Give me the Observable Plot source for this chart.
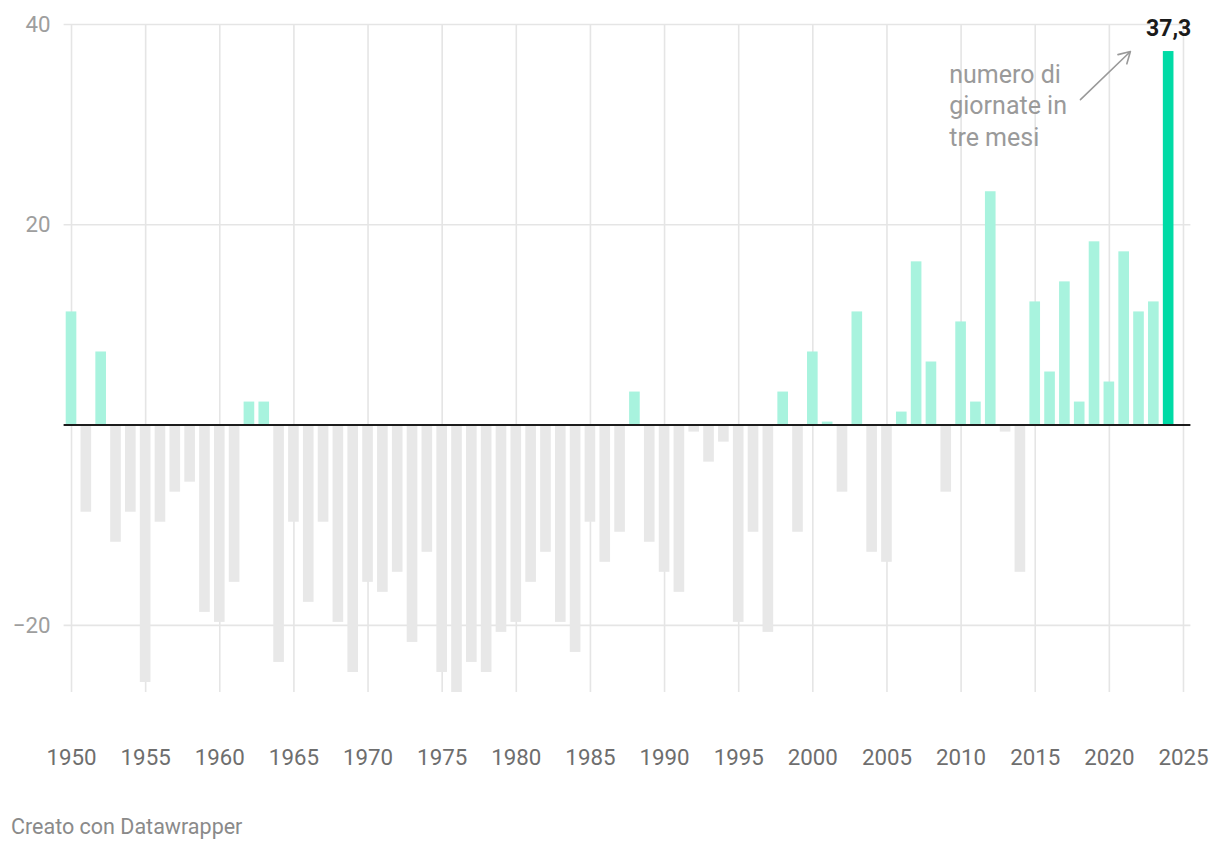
<!DOCTYPE html>
<html><head><meta charset="utf-8">
<script src="https://cdn.jsdelivr.net/npm/d3@7"></script>
<script src="https://cdn.jsdelivr.net/npm/@observablehq/plot@0.6"></script>
<style>
html,body{margin:0;padding:0;background:#fff;}
body{width:1220px;height:852px;position:relative;overflow:hidden;font-family:Roboto,"Noto Sans",sans-serif;}
#chart{position:absolute;left:0;top:0;}
#footer{position:absolute;left:11px;top:816px;font-size:21.5px;line-height:22px;color:#8a8a8a;font-family:Roboto,sans-serif;}
#chart g[aria-label="x-axis tick label"] text{fill:#6e6e6e;}
#chart g[aria-label="y-axis tick label"] text{fill:#9e9e9e;}
</style></head><body>
<div id="chart"></div>
<div id="footer">Creato con Datawrapper</div>
<script>
const years = [1950,1951,1952,1953,1954,1955,1956,1957,1958,1959,
  1960,1961,1962,1963,1964,1965,1966,1967,1968,1969,
  1970,1971,1972,1973,1974,1975,1976,1977,1978,1979,
  1980,1981,1982,1983,1984,1985,1986,1987,1988,1989,
  1990,1991,1992,1993,1994,1995,1996,1997,1998,1999,
  2000,2001,2002,2003,2004,2005,2006,2007,2008,2009,
  2010,2011,2012,2013,2014,2015,2016,2017,2018,2019,
  2020,2021,2022,2023,2024];
const values = [11.3,-8.7,7.3,-11.7,-8.7,-25.7,-9.7,-6.7,-5.7,-18.7,
  -19.7,-15.7,2.3,2.3,-23.7,-9.7,-17.7,-9.7,-19.7,-24.7,
  -15.7,-16.7,-14.7,-21.7,-12.7,-24.7,-26.7,-23.7,-24.7,-20.7,
  -19.7,-15.7,-12.7,-19.7,-22.7,-9.7,-13.7,-10.7,3.3,-11.7,
  -14.7,-16.7,-0.7,-3.7,-1.7,-19.7,-10.7,-20.7,3.3,-10.7,
  7.3,0.3,-6.7,11.3,-12.7,-13.7,1.3,16.3,6.3,-6.7,
  10.3,2.3,23.3,-0.7,-14.7,12.3,5.3,14.3,2.3,18.3,
  4.3,17.3,11.3,12.3,37.3];
const xTicks = [1950,1955,1960,1965,1970,1975,1980,1985,1990,1995,2000,2005,2010,2015,2020,2025];
const yTicks = [-20,20,40];
const highlightYear = 2024;
const noteLabel = [{year: 2009.2, value: 36.4, text: "numero di\ngiornate in\ntre mesi"}];
const noteArrow = [{x1: 2018.05, y1: 32.5, x2: 2021.42, y2: 37.3}];

const colorPos = "#a8f3de", colorNeg = "#e8e8e8", colorHi = "#00dba6";
const data = years.map((year, i) => ({year, value: values[i]}));
const itFmt = d3.formatLocale({decimal: ",", thousands: ".", grouping: [3], currency: ["", "€"]}).format(",.1f");

const chart = Plot.plot({
  width: 1220,
  height: 790,
  marginLeft: 63.6,
  marginRight: 29.6,
  marginTop: 24,
  marginBottom: 98,
  style: {fontFamily: "Roboto, sans-serif", fontSize: "22px", background: "#fff", overflow: "visible"},
  x: {domain: [1949.5, 2025.5]},
  y: {domain: [-26.7, 40]},
  marks: [
    Plot.ruleX(xTicks, {stroke: "#e5e5e5", strokeWidth: 1.6}),
    Plot.ruleY(yTicks, {stroke: "#e5e5e5", strokeWidth: 1.6}),
    Plot.rect(data, {
      x1: d => d.year - 0.5, x2: d => d.year + 0.5,
      y1: 0, y2: "value",
      insetLeft: 2.1, insetRight: 2.1,
      fill: d => d.year === highlightYear ? colorHi : (d.value >= 0 ? colorPos : colorNeg)
    }),
    Plot.ruleY([0], {stroke: "#1c1c1c", strokeWidth: 2}),
    Plot.axisX({ticks: xTicks, tickSize: 0, tickPadding: 56.4, tickFormat: d => String(d), fontSize: 22.3}),
    Plot.axisY({ticks: yTicks, tickSize: 0, tickPadding: 13.6, fontSize: 22.3}),
    Plot.text(data.filter(d => d.year === highlightYear), {
      x: "year", y: "value", text: d => itFmt(d.value),
      lineAnchor: "bottom", dy: -16, fontWeight: "bold", fontSize: 23, fill: "#1a1a1a"
    }),
    Plot.text(noteLabel, {
      x: "year", y: "value", text: "text", textAnchor: "start", lineAnchor: "top",
      lineHeight: 1.26, fontSize: 25, fill: "#9a9a9a"
    }),
    Plot.arrow(noteArrow, {
      x1: "x1", y1: "y1", x2: "x2", y2: "y2", bend: 0,
      stroke: "#9a9a9a", strokeWidth: 1.6, headLength: 12
    })
  ]
});
document.getElementById("chart").appendChild(chart);
</script>
</body></html>
